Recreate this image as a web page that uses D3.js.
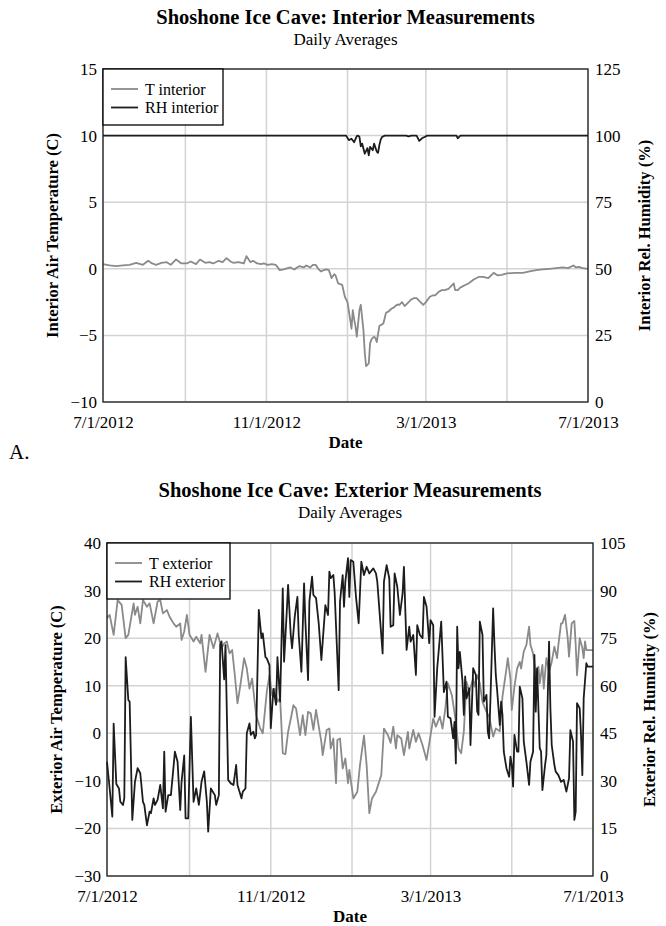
<!DOCTYPE html>
<html>
<head>
<meta charset="utf-8">
<script src="https://cdn.jsdelivr.net/npm/d3@7"></script>
<style>
  html, body { margin: 0; padding: 0; background: #fff; }
  svg { display: block; }
  text { font-family: "Liberation Serif", "Times New Roman", serif; fill: #000; }
</style>
</head>
<body>
<svg id="chart" width="666" height="926"></svg>
<script>
// Daily averages, Shoshone Ice Cave, July 2012 – July 2013.
// Each series is a list of [day since 7/1/2012, value].

const startDate = "7/1/2012";
const endDate = "7/1/2013";
const dateLabels = ["7/1/2012", "11/1/2012", "3/1/2013", "7/1/2013"];

const interiorTempTicks = [-10, -5, 0, 5, 10, 15];
const interiorRhTicks = [0, 25, 50, 75, 100, 125];
const exteriorTempTicks = [-30, -20, -10, 0, 10, 20, 30, 40];
const exteriorRhTicks = [0, 15, 30, 45, 60, 75, 90, 105];

// Interior air temperature (C)
const tInterior = [[0,0.35],[5,0.25],[10,0.2],[15,0.25],[20,0.3],[25,0.45],[30,0.3],[34,0.6],[37,0.4],[40,0.3],[44,0.45],[48,0.5],[51,0.3],[55,0.7],[59,0.4],[63,0.4],[66,0.55],[70,0.35],[73,0.7],[77,0.45],[80,0.5],[83,0.4],[87,0.6],[90,0.5],[93,0.8],[96,0.55],[98,0.45],[102,0.5],[106,0.4],[108,0.95],[111,0.5],[113,0.6],[116,0.4],[119,0.35],[121,0.4],[124,0.3],[127,0.35],[130,0.3],[133,-0.1],[136,-0.05],[139,0.05],[141,0.1],[144,-0.05],[146,0.1],[148,0.2],[151,0.1],[153,0.25],[156,0.1],[158,0.3],[160,0.3],[162,0.0],[164,-0.2],[166,-0.1],[168,-0.05],[170,-0.1],[172,-0.7],[174,-0.4],[175,-0.5],[177,-1.1],[180,-1.2],[182,-2.1],[184,-2.5],[186,-3.8],[187,-4.5],[188,-3.1],[189,-3.8],[190,-4.3],[191,-5.1],[193,-3.1],[194,-2.7],[196,-4.6],[197,-6.3],[198,-7.3],[200,-7.1],[201,-5.6],[202,-5.3],[204,-5.1],[205,-5.2],[206,-5.5],[208,-4.3],[211,-4.1],[213,-3.3],[215,-3.2],[217,-3.0],[219,-2.9],[221,-2.7],[223,-2.7],[225,-2.5],[227,-2.8],[230,-2.5],[232,-2.3],[234,-2.2],[236,-2.2],[238,-2.4],[241,-2.7],[243,-2.5],[246,-2.1],[248,-2.0],[250,-2.0],[253,-1.7],[255,-1.6],[257,-1.6],[260,-1.5],[262,-1.3],[264,-1.1],[265,-1.6],[267,-1.6],[269,-1.4],[271,-1.3],[273,-1.2],[275,-1.1],[279,-0.8],[283,-0.6],[286,-0.6],[290,-0.7],[294,-0.3],[297,-0.5],[300,-0.45],[304,-0.35],[310,-0.3],[316,-0.3],[321,-0.2],[326,-0.1],[331,-0.05],[336,0],[341,0.05],[346,0.1],[350,0.05],[354,0.25],[356,0.1],[358,0.15],[361,0.05],[365,0]];

// Interior relative humidity (%)
const rhInterior = [[0,100],[183,100],[185,98.3],[187,98.8],[189,97.5],[191,99.8],[192,100],[193,99.5],[194,96],[195,97],[197,93.2],[199,95.3],[200,92.6],[201,95.8],[203,94.5],[204,97],[206,94],[207,93.5],[208,96.5],[209,98.5],[210,99.5],[212,100],[228,100],[230,99.7],[232,100],[236,100],[238,98],[240,99],[242,99.5],[244,100],[266,100],[267,99],[268,99.5],[269,100],[365,100]];

// Exterior air temperature (C)
const tExterior = [[0,24.2],[2,24.9],[5,20.7],[8,28],[11,27],[14,20],[16,20.7],[20,27.3],[21,24.9],[23,26.6],[25,23.1],[27,28],[30,26.6],[32,27.3],[35,23.1],[38,27.7],[40,28],[42,25.2],[45,25.9],[47,24.5],[50,23.1],[52,22.4],[55,23.1],[56,19.6],[58,21.4],[60,24.9],[62,20.7],[65,19.3],[67,20.3],[70,18.9],[71,20.7],[74,12.9],[77,20.7],[80,17.9],[83,21],[86,17.9],[88,18.9],[90,19.3],[92,16.8],[94,17.5],[96,12.2],[98,6.3],[100,9.8],[103,15.8],[105,13.6],[107,9.4],[109,11.5],[112,3.8],[115,1.1],[117,0],[120,8.7],[122,12.2],[124,8],[126,9.4],[128,6.6],[130,7.5],[132,-4.2],[134,-4.4],[136,0.3],[138,3],[140,5.9],[142,5.2],[145,-0.4],[147,3.8],[149,-0.4],[151,4.5],[153,4.2],[155,0.7],[157,4.9],[159,1.5],[161,-1.8],[162,-4.6],[165,0.7],[167,1],[168,-3.2],[170,-1.1],[172,-10.5],[173,-1.4],[175,-1.1],[177,-7.4],[179,-5.3],[181,-10.5],[182,-7.7],[185,-13.7],[188,-12.3],[190,-6.7],[193,-0.5],[195,-6.7],[197,-16.8],[199,-13.7],[202,-12.3],[206,-8.8],[208,1],[211,-0.4],[213,-2],[215,1.4],[217,-3.2],[218,-0.4],[221,-1.1],[223,-4.6],[226,0.3],[227,-3.2],[230,0.7],[232,-1.8],[234,0],[237,-2.5],[240,-5.6],[242,-2.1],[245,3.1],[247,1.4],[250,3.5],[252,1],[254,5],[256,10.5],[259,8],[262,2.4],[264,-3.2],[266,-4.2],[268,0.4],[270,10.8],[272,8.7],[275,11.5],[276,9.8],[278,12.2],[280,10.5],[282,6.6],[285,4.5],[287,3.5],[290,-0.7],[292,1],[295,0.4],[297,7.7],[300,13.6],[301,15.8],[303,11.5],[304,4.9],[306,9.8],[308,13.6],[310,15],[311,13.6],[313,17.2],[315,18.6],[317,22.4],[318,18.6],[320,16.8],[322,11.9],[324,14],[325,10.5],[327,14.4],[328,9.4],[330,15.8],[332,13],[334,15],[336,18.2],[338,15.8],[339,18.6],[341,23.1],[342,23.1],[344,24.9],[346,20],[347,16.1],[349,23.1],[351,23.6],[352,18.6],[353,12.2],[355,20],[357,17.9],[358,15.8],[359,19.3],[360,17.5],[365,17.5]];

// Exterior relative humidity (%)
const rhExterior = [[0,36],[2,27.6],[4,18.7],[5,48],[7,29],[9,27.6],[10,23.4],[12,22.4],[13,24.5],[14,69],[16,55.5],[17,55],[19,17.7],[21,29.7],[23,34],[25,32.4],[27,23.4],[28,22.4],[30,16],[32,20.3],[33,19.8],[35,24.5],[36,22.4],[38,24],[40,28.7],[42,21.3],[43,39.2],[44,20.3],[46,25.5],[48,25.5],[51,39.2],[53,36],[55,20.8],[56,29.7],[58,38],[59,18.2],[61,18.2],[63,50.2],[65,23.4],[67,27.6],[69,22.4],[71,29.7],[73,33],[75,23.4],[76,14],[78,27.6],[81,25.5],[82,22.4],[84,25.5],[85,72.8],[86,74],[88,62],[89,72.8],[91,30.3],[93,29.2],[95,28.7],[97,35],[98,28.7],[101,24.5],[102,26.6],[104,27.6],[105,45],[107,48.1],[108,44.5],[110,45.5],[111,43.4],[112,44.5],[114,83.9],[116,75],[117,76.5],[119,69],[120,68.6],[122,66.5],[123,46.6],[125,59],[127,54],[128,69],[130,55],[132,90.7],[133,67.6],[135,83.3],[136,91.8],[138,76],[139,71.8],[141,81.8],[143,88],[144,76],[146,64.4],[148,92.3],[149,80.2],[151,61.8],[152,86.5],[154,94.4],[155,88.6],[157,87.6],[159,79.7],[161,68.1],[162,73.9],[164,85.4],[166,82.3],[167,96],[168,93.9],[170,94.9],[171,89.1],[174,58.6],[175,86.5],[177,94.9],[178,84.9],[179,92.8],[181,100.2],[182,88],[183,99.6],[185,99.1],[187,88],[189,79.7],[191,99.1],[193,94.9],[195,97.5],[197,95.4],[200,97],[202,95.4],[203,92.8],[207,70.2],[208,92.8],[210,98],[212,93.9],[213,78.6],[215,79.1],[216,95.4],[218,91.2],[220,82.3],[222,89.1],[223,97.5],[225,71.3],[227,78.6],[228,73.9],[230,76],[232,63.4],[233,79.1],[235,76],[237,75],[238,88],[240,84.9],[242,73.4],[243,80.7],[245,79.1],[246,50.2],[248,65.5],[251,80.2],[253,58],[255,61.3],[256,50.2],[258,49.7],[259,46.6],[260,43.4],[261,48.6],[262,35.5],[263,78.6],[264,65.5],[265,70.7],[267,61.3],[268,50.8],[269,62.9],[270,56],[272,59.2],[273,41.3],[275,65.5],[277,63.4],[278,52],[279,50.8],[280,80.2],[282,76],[283,55],[285,57.1],[286,45.5],[287,43.4],[288,56],[290,84.4],[291,72.8],[292,63.4],[293,58.6],[295,47.6],[296,55],[297,50.8],[298,39.2],[300,34],[302,31.3],[303,37.6],[304,35],[305,28.2],[306,44.5],[308,39.2],[309,39.2],[310,59.7],[312,56],[313,42.4],[315,36],[317,28.7],[318,36],[320,39.2],[321,69.7],[322,51.8],[323,65.5],[325,40.3],[326,39.2],[327,27.1],[329,35],[330,38.2],[332,73.9],[333,52.9],[334,41.3],[336,35],[337,32.9],[339,31.8],[341,29.7],[343,30.3],[345,26.6],[347,30.8],[348,46],[350,42.4],[351,17.7],[352,20.3],[353,54.5],[355,52.9],[356,44.5],[357,31.8],[358,56],[360,67.1],[361,66],[365,66]];

const parseDate = d3.timeParse("%m/%d/%Y");
const fmtDate = d3.timeFormat("%-m/%-d/%Y");
const t0 = parseDate(startDate);
const t1 = parseDate(endDate);
const dayToDate = d => d3.timeDay.offset(t0, d);

const svg = d3.select("#chart");

const GRID = "#d3d3d3";
const FRAME = "#1e1e1e";
const GRAY = "#8a8a8a";
const DARK = "#1c1c1c";

function panel(cfg) {
  const { left, right, top, bottom } = cfg;
  const x = d3.scaleTime().domain([t0, t1]).range([left, right]);
  const yL = d3.scaleLinear().domain(d3.extent(cfg.tTicks)).range([bottom, top]);
  const yR = d3.scaleLinear().domain(d3.extent(cfg.rhTicks)).range([bottom, top]);
  const cx = (left + right) / 2;

  // titles
  svg.append("text").attr("x", cx).attr("y", cfg.titleY)
    .attr("text-anchor", "middle").attr("font-size", 20.5).attr("font-weight", "bold")
    .text(cfg.title);
  svg.append("text").attr("x", cx).attr("y", cfg.titleY + 21)
    .attr("text-anchor", "middle").attr("font-size", 17)
    .text("Daily Averages");

  const g = svg.append("g");

  // gridlines
  g.append("g").selectAll("line").data(x.ticks(d3.timeMonth.every(2)))
    .join("line")
    .attr("x1", d => x(d)).attr("x2", d => x(d))
    .attr("y1", top).attr("y2", bottom)
    .attr("stroke", GRID).attr("stroke-width", 1.5);
  g.append("g").selectAll("line").data(cfg.tTicks)
    .join("line")
    .attr("x1", left).attr("x2", right)
    .attr("y1", d => yL(d)).attr("y2", d => yL(d))
    .attr("stroke", GRID).attr("stroke-width", 1.5);

  // series
  const lineT = d3.line().x(d => x(dayToDate(d[0]))).y(d => yL(d[1]));
  const lineRH = d3.line().x(d => x(dayToDate(d[0]))).y(d => yR(d[1]));
  g.append("path").datum(cfg.tData).attr("d", lineT)
    .attr("fill", "none").attr("stroke", GRAY).attr("stroke-width", 1.8)
    .attr("stroke-linejoin", "round");
  g.append("path").datum(cfg.rhData).attr("d", lineRH)
    .attr("fill", "none").attr("stroke", DARK).attr("stroke-width", 1.8)
    .attr("stroke-linejoin", "round");

  // frame
  g.append("rect").attr("x", left).attr("y", top)
    .attr("width", right - left).attr("height", bottom - top)
    .attr("fill", "none").attr("stroke", FRAME).attr("stroke-width", 1.3);

  // axes
  const styleAxis = sel => {
    sel.select(".domain").remove();
    sel.attr("font-family", null).attr("font-size", null);
    sel.selectAll("text").attr("font-size", 17).attr("fill", "#000");
  };
  svg.append("g").attr("transform", `translate(${left},0)`)
    .call(d3.axisLeft(yL).tickValues(cfg.tTicks).tickSize(0).tickPadding(6).tickFormat(d3.format("d")))
    .call(styleAxis);
  svg.append("g").attr("transform", `translate(${right},0)`)
    .call(d3.axisRight(yR).tickValues(cfg.rhTicks).tickSize(0).tickPadding(7).tickFormat(d3.format("d")))
    .call(styleAxis);
  svg.append("g").attr("transform", `translate(0,${bottom})`)
    .call(d3.axisBottom(x).tickValues(dateLabels.map(parseDate)).tickSize(0).tickPadding(14).tickFormat(fmtDate))
    .call(styleAxis);

  // axis titles
  svg.append("text").attr("x", cx).attr("y", bottom + 46)
    .attr("text-anchor", "middle").attr("font-size", 17).attr("font-weight", "bold")
    .text("Date");
  const midY = (top + bottom) / 2;
  svg.append("text").attr("transform", `translate(${cfg.leftTitleX},${midY}) rotate(-90)`)
    .attr("text-anchor", "middle").attr("font-size", 16.5).attr("font-weight", "bold")
    .text(cfg.leftTitle);
  svg.append("text").attr("transform", `translate(${cfg.rightTitleX},${midY}) rotate(-90)`)
    .attr("text-anchor", "middle").attr("font-size", 16.5).attr("font-weight", "bold")
    .text(cfg.rightTitle);

  // legend
  const lg = svg.append("g");
  lg.append("rect").attr("x", left).attr("y", top)
    .attr("width", cfg.legendW).attr("height", 56)
    .attr("fill", "#fff").attr("stroke", "#000").attr("stroke-width", 1.3);
  const items = [[cfg.tName, GRAY], [cfg.rhName, DARK]];
  items.forEach(([name, color], i) => {
    const yy = top + 20 + i * 18.5;
    lg.append("line").attr("x1", left + 8).attr("x2", left + 35)
      .attr("y1", yy).attr("y2", yy)
      .attr("stroke", color).attr("stroke-width", 1.8);
    lg.append("text").attr("x", left + 42).attr("y", yy + 5.5)
      .attr("font-size", 16).text(name);
  });
}

panel({
  left: 103, right: 588, top: 69, bottom: 402, titleY: 24,
  title: "Shoshone Ice Cave: Interior Measurements",
  tTicks: interiorTempTicks, rhTicks: interiorRhTicks,
  tData: tInterior, rhData: rhInterior,
  tName: "T interior", rhName: "RH interior", legendW: 120,
  leftTitle: "Interior Air Temperature (C)", leftTitleX: 58,
  rightTitle: "Interior Rel. Humidity (%)", rightTitleX: 650
});

panel({
  left: 107, right: 593, top: 543, bottom: 876, titleY: 497,
  title: "Shoshone Ice Cave: Exterior Measurements",
  tTicks: exteriorTempTicks, rhTicks: exteriorRhTicks,
  tData: tExterior, rhData: rhExterior,
  tName: "T exterior", rhName: "RH exterior", legendW: 123,
  leftTitle: "Exterior Air Temperature (C)", leftTitleX: 62,
  rightTitle: "Exterior Rel. Humidity (%)", rightTitleX: 655
});

// panel tag
svg.append("text").attr("x", 9).attr("y", 459).attr("font-size", 21).text("A.");
</script>
</body>
</html>
